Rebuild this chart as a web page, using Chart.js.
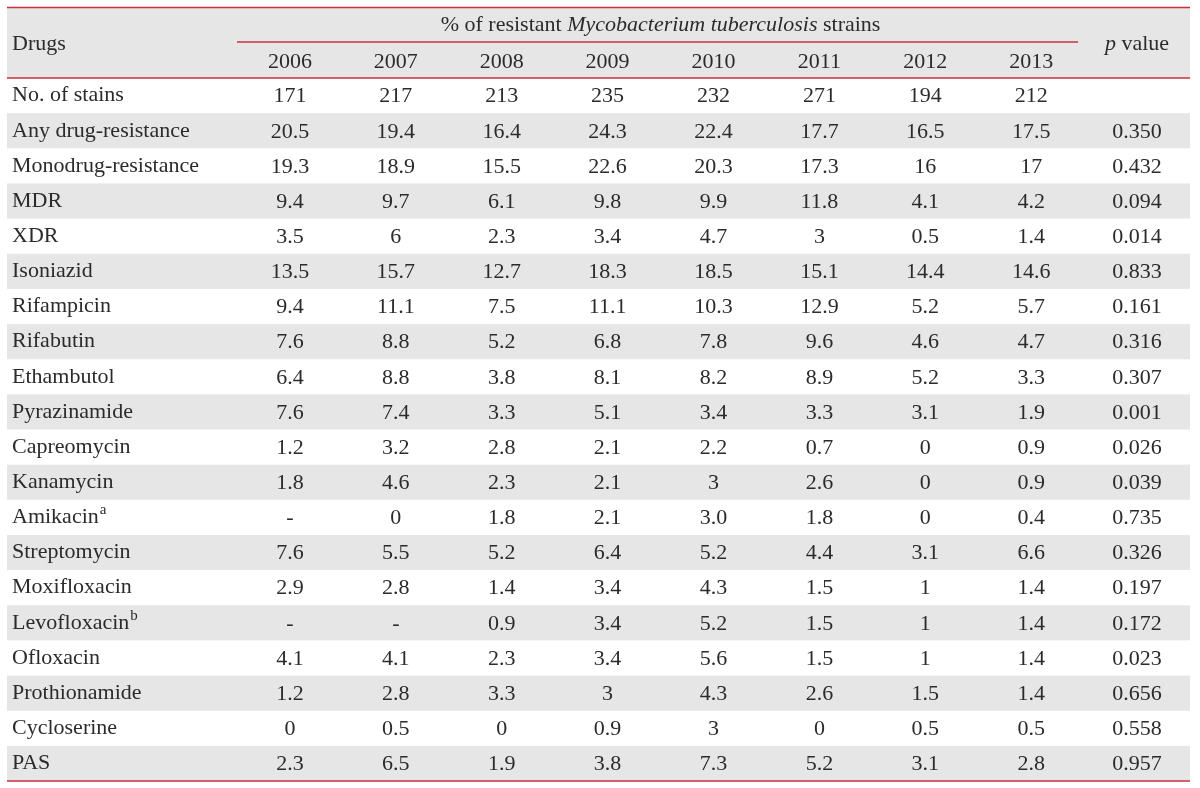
<!DOCTYPE html>
<html>
<head>
<meta charset="utf-8">
<script src="https://cdn.jsdelivr.net/npm/chart.js@4.4.1/dist/chart.umd.min.js"></script>
<style>
  html, body { margin: 0; padding: 0; background: #fff; }
  canvas { display: block; }
</style>
</head>
<body>
<canvas id="tbl" width="1200" height="788"></canvas>
<script>
// rows of the table (first column)
const rows = ['No. of stains', 'Any drug-resistance', 'Monodrug-resistance', 'MDR', 'XDR',
  'Isoniazid', 'Rifampicin', 'Rifabutin', 'Ethambutol', 'Pyrazinamide', 'Capreomycin',
  'Kanamycin', 'Amikacin', 'Streptomycin', 'Moxifloxacin', 'Levofloxacin', 'Ofloxacin',
  'Prothionamide', 'Cycloserine', 'PAS'];
const rowNotes = { 'Amikacin': 'a', 'Levofloxacin': 'b' };

const columns = ['2006', '2007', '2008', '2009', '2010', '2011', '2012', '2013', 'p value'];

const v2006 = ['171', '20.5', '19.3', '9.4', '3.5', '13.5', '9.4', '7.6', '6.4', '7.6', '1.2', '1.8', '-', '7.6', '2.9', '-', '4.1', '1.2', '0', '2.3'];
const v2007 = ['217', '19.4', '18.9', '9.7', '6', '15.7', '11.1', '8.8', '8.8', '7.4', '3.2', '4.6', '0', '5.5', '2.8', '-', '4.1', '2.8', '0.5', '6.5'];
const v2008 = ['213', '16.4', '15.5', '6.1', '2.3', '12.7', '7.5', '5.2', '3.8', '3.3', '2.8', '2.3', '1.8', '5.2', '1.4', '0.9', '2.3', '3.3', '0', '1.9'];
const v2009 = ['235', '24.3', '22.6', '9.8', '3.4', '18.3', '11.1', '6.8', '8.1', '5.1', '2.1', '2.1', '2.1', '6.4', '3.4', '3.4', '3.4', '3', '0.9', '3.8'];
const v2010 = ['232', '22.4', '20.3', '9.9', '4.7', '18.5', '10.3', '7.8', '8.2', '3.4', '2.2', '3', '3.0', '5.2', '4.3', '5.2', '5.6', '4.3', '3', '7.3'];
const v2011 = ['271', '17.7', '17.3', '11.8', '3', '15.1', '12.9', '9.6', '8.9', '3.3', '0.7', '2.6', '1.8', '4.4', '1.5', '1.5', '1.5', '2.6', '0', '5.2'];
const v2012 = ['194', '16.5', '16', '4.1', '0.5', '14.4', '5.2', '4.6', '5.2', '3.1', '0', '0', '0', '3.1', '1', '1', '1', '1.5', '0.5', '3.1'];
const v2013 = ['212', '17.5', '17', '4.2', '1.4', '14.6', '5.7', '4.7', '3.3', '1.9', '0.9', '0.9', '0.4', '6.6', '1.4', '1.4', '1.4', '1.4', '0.5', '2.8'];
const pValues = ['', '0.350', '0.432', '0.094', '0.014', '0.833', '0.161', '0.316', '0.307', '0.001', '0.026', '0.039', '0.735', '0.326', '0.197', '0.172', '0.023', '0.656', '0.558', '0.957'];

const colValues = [v2006, v2007, v2008, v2009, v2010, v2011, v2012, v2013, pValues];

const FONT = '"Liberation Serif", "Times New Roman", serif';
const SIZE = 22;
const TEXT = '#2b2b2b';
const RED = '#c8303a';
const GRAY = '#e6e6e6';

// one invisible point per cell, text is drawn at the point
const datasets = columns.map((col, c) => ({
  label: col,
  data: rows.map((r, i) => ({ x: col, y: r, t: colValues[c][i] })).filter(d => d.t !== ''),
  showLine: false,
  pointRadius: 0,
  pointHoverRadius: 0
}));

const tablePlugin = {
  id: 'tablePlugin',
  beforeDraw(chart) {
    const ctx = chart.ctx;
    const area = chart.chartArea;
    const ys = chart.scales.y;
    const left = ys.left - 5;
    const band = ys.height / rows.length;
    ctx.save();
    // header background
    ctx.fillStyle = GRAY;
    ctx.fillRect(left, 7, area.right - left, area.top - 7);
    // striped rows
    rows.forEach((r, i) => {
      if (i % 2 === 1) {
        const yc = ys.getPixelForValue(i);
        ctx.fillRect(left, yc - band / 2, area.right - left, band);
      }
    });
    ctx.restore();
  },
  afterDraw(chart) {
    const ctx = chart.ctx;
    const area = chart.chartArea;
    const xs = chart.scales.x;
    const ys = chart.scales.y;
    const left = ys.left - 5;
    const colW = xs.width / columns.length;
    ctx.save();
    ctx.fillStyle = TEXT;
    ctx.textBaseline = 'middle';
    ctx.font = SIZE + 'px ' + FONT;

    // cell values
    chart.data.datasets.forEach((ds, di) => {
      const meta = chart.getDatasetMeta(di);
      meta.data.forEach((pt, j) => {
        ctx.textAlign = 'center';
        ctx.fillText(ds.data[j].t, pt.x, pt.y + 1);
      });
    });

    // footnote marks on row labels
    ctx.textAlign = 'left';
    rows.forEach((r, i) => {
      if (rowNotes[r]) {
        ctx.font = SIZE + 'px ' + FONT;
        const w = ctx.measureText(r).width;
        ctx.font = '15px ' + FONT;
        ctx.fillText(rowNotes[r], ys.left + w + 1, ys.getPixelForValue(i) - 7);
      }
    });

    // header texts
    ctx.font = SIZE + 'px ' + FONT;
    ctx.fillText('Drugs', ys.left, 44);

    const x0 = xs.getPixelForValue(0) - colW / 2;
    const x1 = xs.getPixelForValue(7) + colW / 2;
    const parts = [
      ['% of resistant ', ''],
      ['Mycobacterium tuberculosis', 'italic '],
      [' strains', '']
    ];
    let total = 0;
    parts.forEach(p => { ctx.font = p[1] + SIZE + 'px ' + FONT; total += ctx.measureText(p[0]).width; });
    let tx = (x0 + x1) / 2 - total / 2;
    parts.forEach(p => {
      ctx.font = p[1] + SIZE + 'px ' + FONT;
      ctx.fillText(p[0], tx, 25);
      tx += ctx.measureText(p[0]).width;
    });

    const pxc = xs.getPixelForValue(8);
    ctx.font = 'italic ' + SIZE + 'px ' + FONT;
    const wp = ctx.measureText('p').width;
    ctx.font = SIZE + 'px ' + FONT;
    const wv = ctx.measureText(' value').width;
    ctx.font = 'italic ' + SIZE + 'px ' + FONT;
    ctx.fillText('p', pxc - (wp + wv) / 2, 44);
    ctx.font = SIZE + 'px ' + FONT;
    ctx.fillText(' value', pxc - (wp + wv) / 2 + wp, 44);

    // red rules
    ctx.strokeStyle = RED;
    ctx.lineWidth = 1.5;
    const rule = (xa, xb, y) => { ctx.beginPath(); ctx.moveTo(xa, y); ctx.lineTo(xb, y); ctx.stroke(); };
    rule(left, area.right, 7.5);
    rule(x0, x1 - 6, 42);
    rule(left, area.right, area.top);
    rule(left, area.right, area.bottom);
    ctx.restore();
  }
};

new Chart(document.getElementById('tbl'), {
  type: 'line',
  data: { datasets },
  options: {
    responsive: false,
    animation: false,
    events: [],
    layout: { padding: { left: 12, right: 10, top: 7, bottom: 7 } },
    plugins: { legend: { display: false }, tooltip: { enabled: false } },
    scales: {
      x: {
        type: 'category',
        labels: columns,
        position: 'top',
        offset: true,
        grid: { display: false, drawTicks: false },
        border: { display: false },
        ticks: {
          autoSkip: false,
          maxRotation: 0,
          padding: 3,
          color: TEXT,
          font: { family: FONT, size: SIZE },
          callback: (v, i) => (i < 8 ? columns[i] : '')
        },
        afterFit: s => { s.height = 71; s.paddingLeft = 0; s.paddingRight = 0; }
      },
      y: {
        type: 'category',
        labels: rows,
        offset: true,
        grid: { display: false, drawTicks: false },
        border: { display: false },
        ticks: {
          autoSkip: false,
          crossAlign: 'far',
          color: TEXT,
          font: { family: FONT, size: SIZE }
        },
        afterFit: s => { s.width = 225; s.paddingTop = 0; s.paddingBottom = 0; }
      }
    }
  },
  plugins: [tablePlugin]
});
</script>
</body>
</html>
